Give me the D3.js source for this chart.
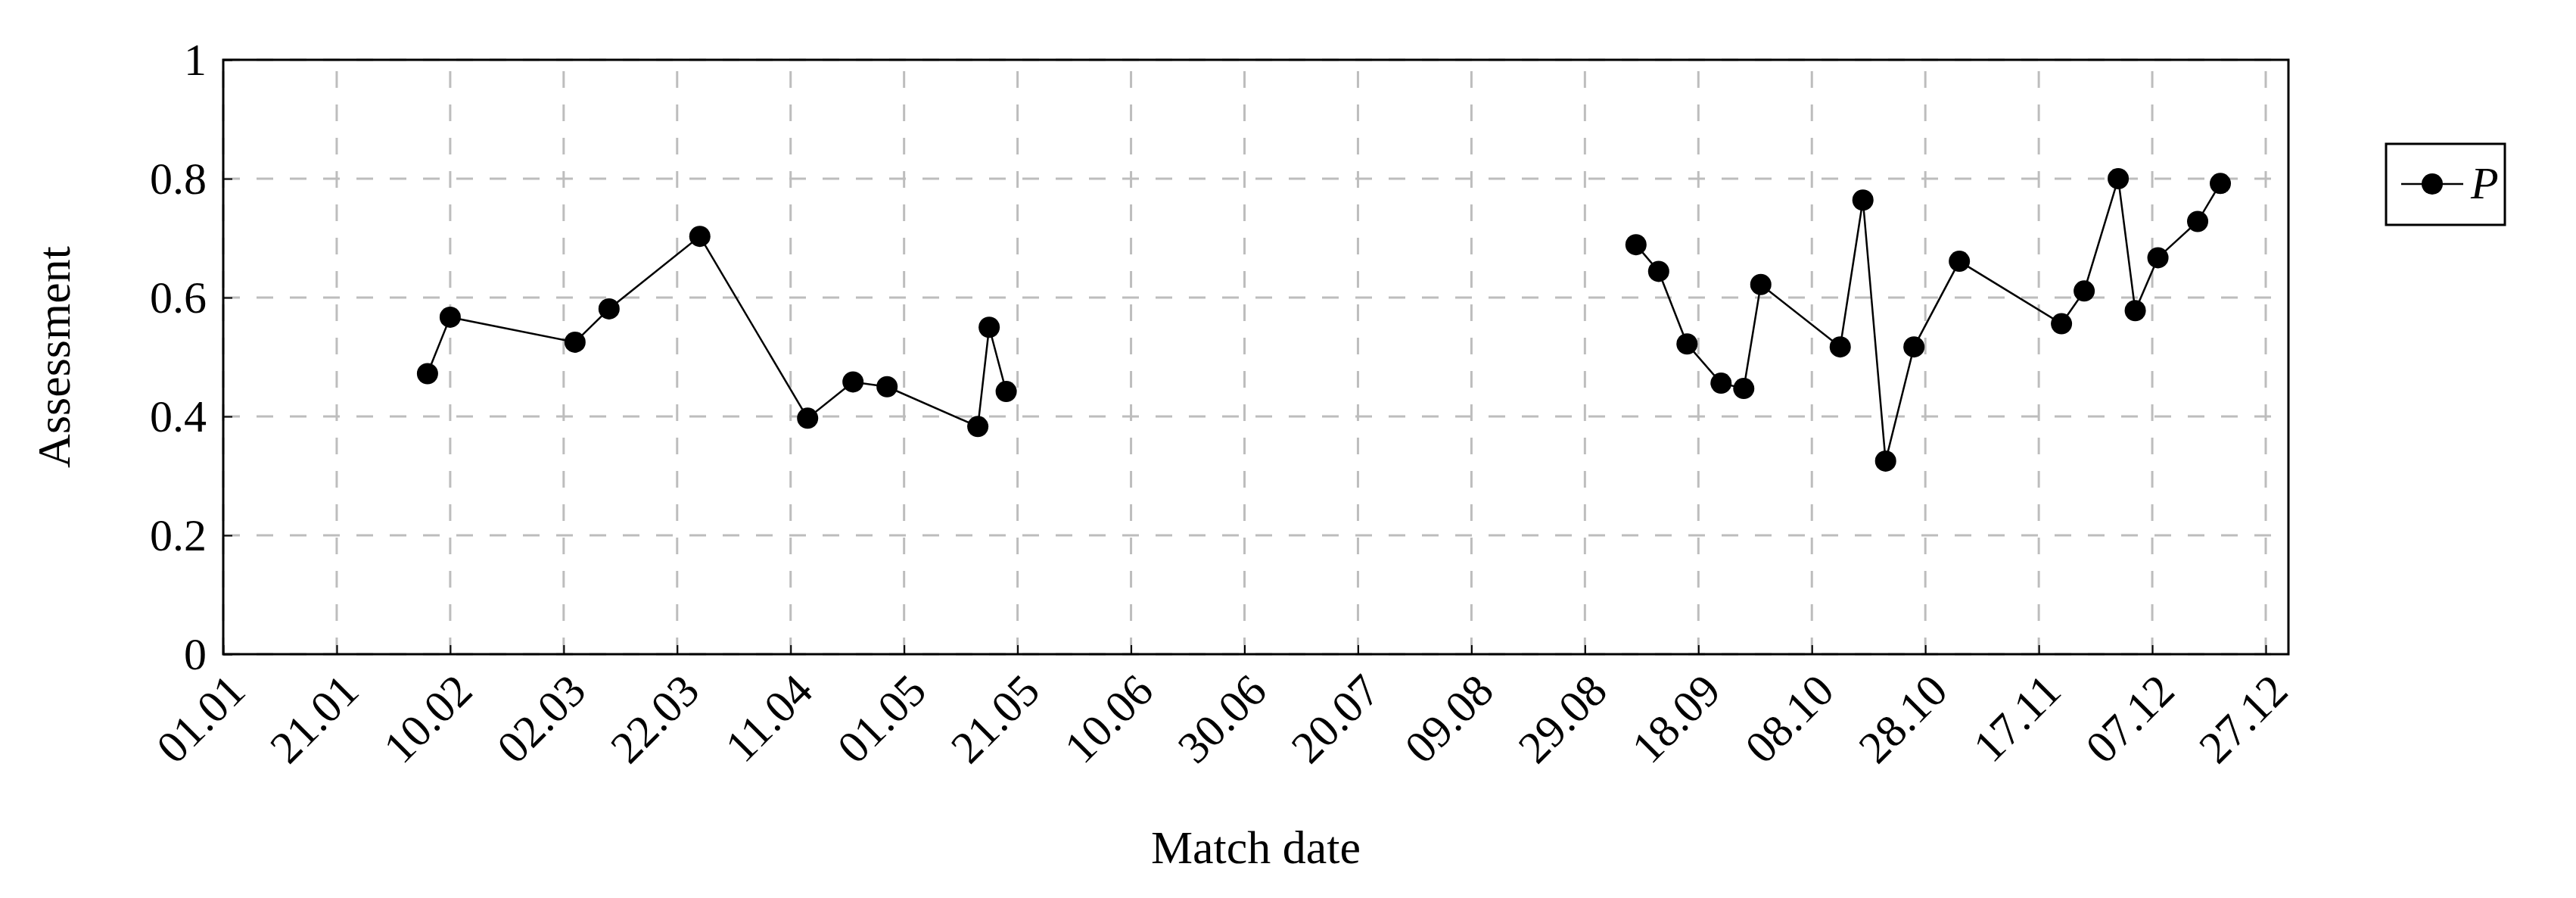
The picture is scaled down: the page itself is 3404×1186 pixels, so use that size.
<!DOCTYPE html>
<html lang="en">
<head>
    <meta charset="utf-8" />
    <script src="https://d3js.org/d3.v7.min.js"></script>
    <style>
        body { margin: 0; background: #fff; }
        text { font-family: "Liberation Serif", "DejaVu Serif", serif; }
    </style>
</head>
<body>
    <svg></svg>
    <script>
        let width = 3404, height = 1186;

        // match dates (dd.mm, non-leap year) and assessment values
        var dates = ["06.02", "10.02", "04.03", "10.03", "26.03", "14.04", "22.04", "28.04", "14.05", "16.05", "19.05",
            "07.09", "11.09", "16.09", "22.09", "26.09", "29.09", "13.10", "17.10", "21.10", "26.10", "03.11",
            "21.11", "25.11", "01.12", "04.12", "08.12", "15.12", "19.12"];
        var values = [0.472, 0.567, 0.525, 0.581, 0.703, 0.397, 0.458, 0.45, 0.383, 0.55, 0.442,
            0.689, 0.644, 0.522, 0.456, 0.447, 0.622, 0.517, 0.764, 0.325, 0.517, 0.661,
            0.556, 0.611, 0.8, 0.578, 0.667, 0.728, 0.792];
        var yTicks = [0, 0.2, 0.4, 0.6, 0.8, 1];

        let parse = d3.timeParse("%d.%m.%Y");
        let points = dates.map((d, i) => ({ date: parse(d + ".2019"), value: values[i] }));

        // split into segments where there is a long gap
        let segments = [[]];
        points.forEach((p, i) => {
            if (i > 0 && (p.date - points[i - 1].date) > 60 * 864e5) segments.push([]);
            segments[segments.length - 1].push(p);
        });

        let margin = { left: 295, right: 380, top: 79, bottom: 322 };
        let svg = d3.select("svg").attr("width", width).attr("height", height);

        let x = d3.scaleTime()
            .domain([parse("01.01.2019"), parse("31.12.2019")])
            .range([margin.left, width - margin.right]);
        let y = d3.scaleLinear().domain([0, 1]).range([height - margin.bottom, margin.top]);

        let xTicks = d3.range(0, 361, 20).map(d => d3.timeDay.offset(parse("01.01.2019"), d));
        let fmt = d3.timeFormat("%d.%m");

        // grid
        svg.append("g").selectAll("line").data(xTicks).enter().append("line")
            .attr("x1", d => x(d)).attr("x2", d => x(d))
            .attr("y1", y(0)).attr("y2", y(1))
            .attr("stroke", "#bdbdbd").attr("stroke-width", 3).attr("stroke-dasharray", "22,22");
        svg.append("g").selectAll("line").data(yTicks).enter().append("line")
            .attr("x1", x.range()[0]).attr("x2", x.range()[1])
            .attr("y1", d => y(d)).attr("y2", d => y(d))
            .attr("stroke", "#bdbdbd").attr("stroke-width", 3).attr("stroke-dasharray", "22,22");

        // axes
        let xAxis = svg.append("g").attr("transform", "translate(0," + y(0) + ")")
            .call(d3.axisBottom(x).tickValues(xTicks).tickFormat(fmt).tickSize(-12).tickPadding(24));
        xAxis.selectAll("text")
            .attr("font-size", 60)
            .attr("text-anchor", "end")
            .attr("dy", "0.35em")
            .attr("transform", "translate(0,20) rotate(-45)");
        let yAxis = svg.append("g").attr("transform", "translate(" + x.range()[0] + ",0)")
            .call(d3.axisLeft(y).tickValues(yTicks).tickFormat(d3.format("")).tickSize(-12).tickPadding(22));
        yAxis.selectAll("text").attr("font-size", 60);
        svg.selectAll(".domain").remove();
        svg.selectAll(".tick line").attr("stroke", "#000").attr("stroke-width", 2);

        svg.append("rect")
            .attr("x", x.range()[0]).attr("y", y(1))
            .attr("width", x.range()[1] - x.range()[0]).attr("height", y(0) - y(1))
            .attr("fill", "none").attr("stroke", "#000").attr("stroke-width", 3);

        // series
        let line = d3.line().x(d => x(d.date)).y(d => y(d.value));
        svg.append("g").selectAll("path").data(segments).enter().append("path")
            .attr("d", line).attr("fill", "none").attr("stroke", "#000").attr("stroke-width", 2.5);
        svg.append("g").selectAll("circle").data(points).enter().append("circle")
            .attr("cx", d => x(d.date)).attr("cy", d => y(d.value)).attr("r", 14).attr("fill", "#000");

        // axis titles
        svg.append("text").attr("x", (x.range()[0] + x.range()[1]) / 2).attr("y", 1140)
            .attr("text-anchor", "middle").attr("font-size", 62).text("Match date");
        svg.append("text").attr("transform", "translate(92," + (y(0.5)) + ") rotate(-90)")
            .attr("text-anchor", "middle").attr("font-size", 62).text("Assessment");

        // legend
        let lg = svg.append("g").attr("transform", "translate(3153,190)");
        lg.append("rect").attr("width", 157).attr("height", 107)
            .attr("fill", "#fff").attr("stroke", "#000").attr("stroke-width", 3);
        lg.append("line").attr("x1", 20).attr("x2", 102).attr("y1", 53).attr("y2", 53)
            .attr("stroke", "#000").attr("stroke-width", 2.5);
        lg.append("circle").attr("cx", 61).attr("cy", 53).attr("r", 14).attr("fill", "#000");
        lg.append("text").attr("x", 112).attr("y", 72).attr("font-size", 60)
            .attr("font-style", "italic").text("P");
    </script>
</body>
</html>
